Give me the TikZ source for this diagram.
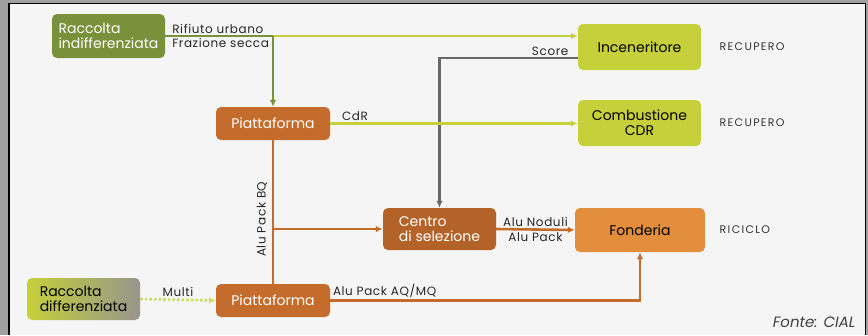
\documentclass[tikz,border=0pt]{standalone}
\usepackage{fontspec}
\setmainfont{Poppins}
\newfontfamily\spaziato[LetterSpace=5]{Poppins}
\newfontfamily\largo[LetterSpace=12]{Poppins}
\usepackage{xcolor}
\definecolor{oliva}{RGB}{121,145,58}
\definecolor{giallo}{RGB}{198,208,58}
\definecolor{arancio}{RGB}{196,108,44}
\definecolor{aranciochiaro}{RGB}{226,142,60}
\definecolor{grigio}{RGB}{105,105,105}
\definecolor{grigiosfumato}{RGB}{150,150,140}
\definecolor{sfondo}{RGB}{245,245,245}
\definecolor{cornice}{RGB}{160,160,160}
\usetikzlibrary{positioning}
\usetikzlibrary{arrows.meta}
\newcommand{\fsize}[1]{\fontsize{#1}{15}\selectfont}
\tikzset{
    box/.style={rounded corners=5pt, align=center, inner sep=1pt, font=\fsize{14}},
    boxscuro/.style={box, text=white},
    flusso/.style={line width=2.6pt},
    freccia/.style={flusso, -{Latex[length=7pt, width=6.5pt]}},
    etichetta/.style={inner sep=1.5pt, text=black!85, font=\spaziato\fsize{12}},
    esito/.style={font=\largo\fsize{11}, text=black!80}
}
\begin{document}
\begin{tikzpicture}[x=1pt, y=-1pt]
    % cornice
    \fill[cornice] (0,0) rectangle (868,335);
    \fill[sfondo] (9,3) rectangle (866,335);
    \draw[black, line width=1.6pt] (9,335) -- (9,3.5) -- (865.5,3.5) -- (865.5,335);
    \useasboundingbox (0,0) rectangle (868,335);

    \node[boxscuro, fill=oliva, align=left, minimum width=113pt, minimum height=44pt] (racInd) at (108.5,36) {Raccolta\\indifferenziata};
    \node[box, fill=giallo, minimum width=123pt, minimum height=46pt] (incen) at (639.5,47) {Inceneritore};
    \node[boxscuro, fill=arancio, minimum width=114pt, minimum height=33pt] (piatt1) at (273,123.5) {Piattaforma};
    \node[box, fill=giallo, minimum width=123pt, minimum height=46pt] (combust) at (639.5,123) {Combustione\\CDR};
    \node[boxscuro, fill=arancio!92!black, align=left, minimum width=113pt, minimum height=42pt] (centro) at (439.5,229) {Centro\\di selezione};
    \node[box, fill=aranciochiaro, minimum width=130pt, minimum height=44pt] (fonderia) at (640,230) {Fonderia};
    \node[box, left color=giallo, right color=grigiosfumato, align=left, minimum width=113pt, minimum height=42pt] (racDiff) at (83.5,299) {Raccolta\\differenziata};
    \node[boxscuro, fill=arancio, minimum width=114pt, minimum height=33pt] (piatt2) at (273,300.5) {Piattaforma};

    \node[esito, right=15pt of incen] (recup1) {RECUPERO};
    \node[esito, right=15pt of combust] (recup2) {RECUPERO};
    \node[esito, right=11pt of fonderia] (riciclo) {RICICLO};
    \node[font=\fsize{15}\itshape, text=black!75, anchor=south east] (fonte) at (859,331) {Fonte: CIAL};

    % flussi
    \coordinate (bivio) at (piatt1.north |- racInd.east);
    \draw[flusso, giallo, -{Latex[length=7pt, width=6.5pt]}] (bivio) -- (bivio -| incen.west);
    \draw[flusso, oliva] (racInd.east) -- (bivio)
        node[etichetta, pos=0.04, above right] {Rifiuto urbano}
        node[etichetta, pos=0.04, below right] {Frazione secca};
    \draw[freccia, oliva] (bivio) -- (piatt1.north);

    \coordinate (scarto) at ([yshift=-11pt]incen.west);
    \draw[freccia, grigio] (scarto) -| (centro.north)
        node[etichetta, pos=0.1, above] {Score};

    \draw[freccia, giallo] (piatt1.east) -- (piatt1.east -| combust.west)
        node[etichetta, pos=0.1, above] {CdR};

    \draw[flusso, arancio] (piatt1.south) -- (piatt2.north)
        node[etichetta, pos=0.55, rotate=90, anchor=south, yshift=3pt] {Alu Pack BQ};
    \coordinate (ramo) at (piatt1.south |- centro.west);
    \draw[freccia, arancio] (ramo) -- (centro.west);

    \draw[freccia, arancio] (centro.east) -- (fonderia.west)
        node[etichetta, midway, above] {Alu Noduli}
        node[etichetta, midway, below] {Alu Pack};

    \draw[freccia, giallo!80!white, dotted] (racDiff.east) -- (piatt2.west)
        node[etichetta, midway, above] {Multi};

    \draw[freccia, arancio] (piatt2.east) -| (fonderia.south)
        node[etichetta, pos=0.0, above right] {Alu Pack AQ/MQ};
\end{tikzpicture}
\end{document}
